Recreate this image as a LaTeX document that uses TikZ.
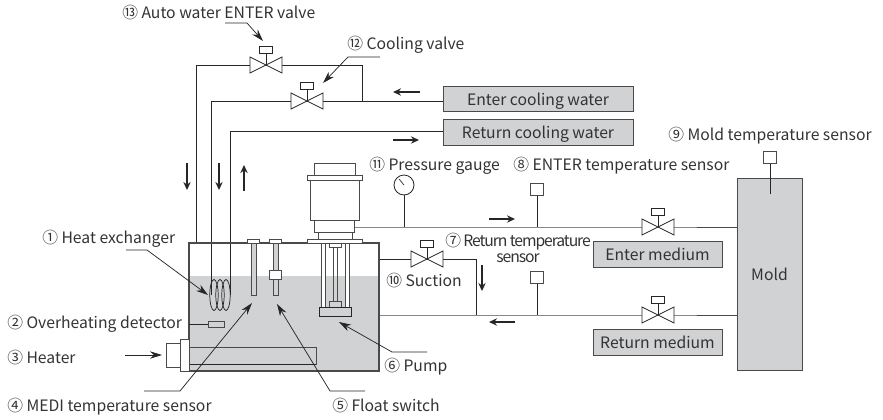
\documentclass[tikz,border=0pt]{standalone}
\usepackage{fontspec}
\setmainfont{Noto Sans CJK JP}
\usetikzlibrary{arrows.meta}
\definecolor{linegray}{HTML}{4A4A4A}
\definecolor{txtgray}{HTML}{333333}
\definecolor{fillgray}{HTML}{D1D2D4}
\tikzset{
    lbl/.style={anchor=west, inner sep=0pt, text=txtgray, text height=10.5pt, text depth=0.5pt, font=\fontsize{11.8}{13}\selectfont},
    boxlbl/.style={draw=linegray, fill=fillgray, inner sep=0pt, text=txtgray, text height=10.5pt, text depth=0.5pt, font=\fontsize{11.8}{13}\selectfont},
    pipe/.style={draw=linegray, line width=0.75pt},
    thin pipe/.style={draw=black!85, line width=0.6pt},
    part/.style={draw=linegray, line width=0.75pt, fill=white},
    flow/.style={-{Stealth[length=6pt,width=5.5pt]}, line width=1.1pt, draw=black!85},
    leader/.style={-{Stealth[length=9pt,width=5.5pt]}, line width=0.55pt, draw=black!85},
    valve/.pic={
        \draw[draw=black!85, line width=0.55pt, fill=white] (-16,-8)--(16,8)--(16,-8)--(-16,8)--cycle;
        \draw[draw=black!85, line width=0.55pt] (0,0)--(0,-12);
        \draw[draw=black!85, line width=0.55pt, fill=white] (-6.5,-12) rectangle (6.5,-19);
    },
    sensor/.pic={
        \draw[part] (-6.5,0) rectangle (6.5,-12);
    }
}

\begin{document}
\begin{tikzpicture}[x=0.75pt,y=-0.75pt]
    \useasboundingbox (0,0) rectangle (883,419);
    % water in the tank
    \fill[fillgray] (189,276) rectangle (379,371);

    % valves and sensors
    \coordinate (v13) at (266,65);
    \coordinate (v12) at (307,101);
    \coordinate (v10) at (427,259);
    \coordinate (vin) at (658,227);
    \coordinate (vout) at (658,315);
    \coordinate (senin) at (537,195);
    \coordinate (senout) at (537,283);
    \coordinate (senmold) at (770,163);
    \coordinate (gauge) at (404,195);
    \coordinate (tankbr) at (379,315);

    % boxes
    \node[boxlbl, minimum width=142.5pt, minimum height=18.75pt] (enterw) at (538,98.5) {Enter cooling water};
    \node[boxlbl, minimum width=142.5pt, minimum height=19.5pt] (returnw) at (538,132) {Return cooling water};
    \node[boxlbl, minimum width=96.75pt, minimum height=19.5pt] (enterm) at (657.5,254) {Enter medium};
    \node[boxlbl, minimum width=96.75pt, minimum height=19.5pt] (returnm) at (657.5,342) {Return medium};
    \node[boxlbl, minimum width=48.75pt, minimum height=144pt] (mold) at (769.5,274) {Mold};

    % cooling water pipes
    \draw[thin pipe] (196,243) |- (362,65) |- (v12);
    \draw[thin pipe] (211,295) |- (enterw.west |- v12);
    \draw[thin pipe] (230,295) |- (returnw.west |- 0,131);
    \foreach \cx in {214,220,226}
        \draw[draw=black!85, line width=0.55pt] (\cx,295) ellipse (4.2 and 15.5);

    % medium pipes
    \draw[pipe] (355,227) -- (vin) -- (vin -| mold.west);
    \draw[pipe] (tankbr) -- (vout) -- (vout -| mold.west);
    \draw[thin pipe] (tankbr |- v10) -- (476,259) -- (476,315);
    \draw[thin pipe] (senin) -- (senin |- vin);
    \draw[thin pipe] (senout) -- (senout |- vout);
    \draw[thin pipe] (senmold) -- (770,194);
    \draw[thin pipe] (gauge) -- (gauge |- vin);

    % tank
    \draw[draw=linegray, line width=0.9pt] (189,243) rectangle (379,371);
    \draw[pipe] (189,347) rectangle (316,364);
    \draw[thin pipe] (189,364) -- (316,364);
    \draw[part] (180,339) rectangle (189,371);
    \draw[part] (166,343) rectangle (180,367);
    \draw[thin pipe] (189,324) -- (208,324);
    \draw[draw=linegray, line width=0.75pt, fill=fillgray] (208,321) rectangle (224,327);

    % probe and float switch
    \draw[part] (247,239) rectangle (259,243);
    \draw[draw=linegray, line width=0.75pt, fill=fillgray] (251,243) rectangle (256,295);
    \draw[part] (269,239) rectangle (281,243);
    \draw[draw=linegray, line width=0.75pt, fill=fillgray] (273,243) rectangle (278,295);
    \draw[part] (269,270) rectangle (281,279);

    % pump
    \draw[part] (314,163) rectangle (355,175);
    \draw[part] (310,180) rectangle (359,220);
    \draw[part] (307,175) rectangle (362,180);
    \draw[part] (314,220) rectangle (354,232);
    \draw[part] (318,232) rectangle (352,239);
    \draw[part] (307,239) rectangle (362,243);
    \foreach \xa/\xb in {321/325,345/349}
        \draw[draw=linegray, line width=0.75pt, fill=white] (\xa,243) rectangle (\xb,308);
    \draw[draw=linegray, line width=0.75pt] (333,247) rectangle (337,301);
    \draw[part] (329,243) rectangle (341,247);
    \draw[draw=linegray, line width=0.75pt, fill=fillgray] (329,301) rectangle (341,307);
    \draw[draw=black!85, line width=0.6pt, fill=fillgray] (319,307) rectangle (351,316);

    % gauge
    \draw[draw=black!85, line width=0.6pt, fill=white] (404,185) circle (10);
    \draw[draw=black!85, line width=0.5pt] (404,185) -- (399,179);

    \pic at (v13) {valve};
    \pic at (v12) {valve};
    \pic at (v10) {valve};
    \pic at (vin) {valve};
    \pic at (vout) {valve};
    \pic at (senin) {sensor};
    \pic at (senout) {sensor};
    \pic at (senmold) {sensor};

    % flow arrows
    \draw[flow] (420,92) -- (393,92);
    \draw[flow] (393,140) -- (419,140);
    \draw[flow] (187,163) -- (187,190);
    \draw[flow] (219,163) -- (219,190);
    \draw[flow] (244,191) -- (244,165);
    \draw[flow] (489,219) -- (515,219);
    \draw[flow] (515,322) -- (489,322);
    \draw[flow] (482,265) -- (482,291);

    % leaders
    \draw[leader] (225,23) -- (247,23) -- (263,41);
    \draw[leader] (380,57) -- (348,57) -- (323,83);
    \draw[leader] (126,250) -- (147,250) -- (208,295);
    \draw[leader] (144,391) -- (180,391) -- (252,303);
    \draw[leader] (365,391) -- (330,391) -- (277,304);
    \draw[leader] (427,352) -- (392,352) -- (339,322);
    \draw[leader] (125,355) -- (162,355);

    % labels
    \node[lbl] (l13) at (122,12) {⑬ Auto water ENTER valve};
    \node[lbl] (l12) at (347,43) {⑫ Cooling valve};
    \node[lbl] (l1) at (42,237) {① Heat exchanger};
    \node[lbl] (l2) at (7,322) {② Overheating detector};
    \node[lbl] (l3) at (7,357) {③ Heater};
    \node[lbl] (l4) at (7,405) {④ MEDI temperature sensor};
    \node[lbl] (l5) at (332,405) {⑤ Float switch};
    \node[lbl] (l6) at (384,365) {⑥ Pump};
    \node[lbl, align=center, text height=, text depth=, font=\fontsize{11.8}{12}\selectfont\addfontfeature{LetterSpace=-7}] (l7) at (445,248) {⑦ Return temperature\\ sensor};
    \node[lbl] (l8) at (513,164) {⑧ ENTER temperature sensor};
    \node[lbl] (l9) at (668,134) {⑨ Mold temperature sensor};
    \node[lbl] (l10) at (386,280) {⑩ Suction};
    \node[lbl] (l11) at (369,164) {⑪ Pressure gauge};
\end{tikzpicture}
\end{document}
